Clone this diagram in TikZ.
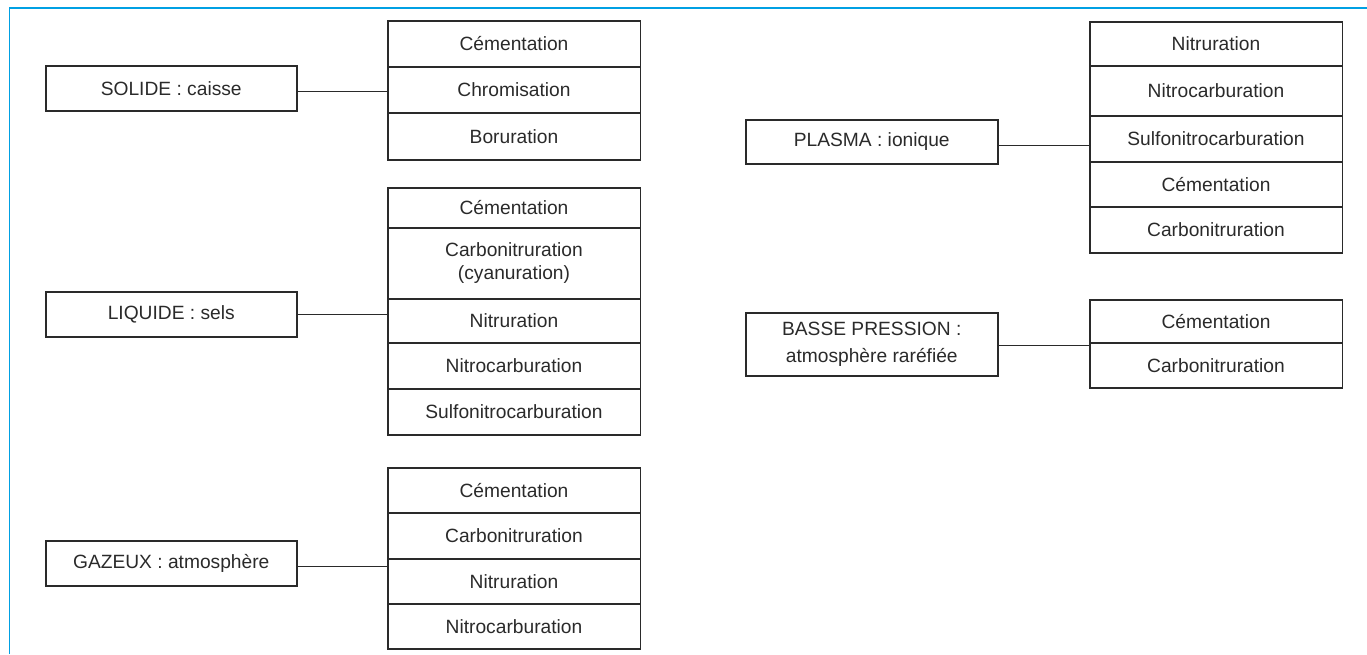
\documentclass[tikz,border=0pt]{standalone}
\usepackage{fontspec}
\setmainfont{Liberation Sans}
\definecolor{frameblue}{HTML}{00A0E3}
\definecolor{ink}{HTML}{2A2A2A}
\begin{document}
\begin{tikzpicture}[x=1pt,y=-1pt,
  every node/.style={font=\fontsize{19.2}{22.5}\selectfont, text=ink},
  cat/.style={draw=ink, line width=1.5pt, inner sep=0pt, anchor=north west, minimum width=251pt, align=center},
  row/.style={draw=ink, line width=1.5pt, inner sep=0pt, anchor=north west, minimum width=252.5pt, align=center},
  link/.style={draw=ink, line width=1.4pt}]
\useasboundingbox (0,0) rectangle (1367,654);
\draw[frameblue, line width=1.5pt] (9.5,654) -- (9.5,8) -- (1367,8);

% SOLIDE
\node[cat, minimum height=45pt] (sol) at (45,65) {SOLIDE : caisse};
\node[row, minimum height=46pt] (sol1) at (387,20) {Cémentation};
\node[row, minimum height=46pt] (sol2) at (387,66) {Chromisation};
\node[row, minimum height=47pt] (sol3) at (387,112) {Boruration};
\draw[link] ([yshift=-3pt]sol.east) -- ([yshift=-3pt]sol.east -| sol2.west);

% LIQUIDE
\node[cat, minimum height=45pt] (liq) at (45,291) {LIQUIDE : sels};
\node[row, minimum height=40pt] (liq1) at (387,187) {Cémentation};
\node[row, minimum height=71pt] (liq2) at (387,227) {Carbonitruration\\(cyanuration)};
\node[row, minimum height=44pt] (liq3) at (387,298) {Nitruration};
\node[row, minimum height=46pt] (liq4) at (387,342) {Nitrocarburation};
\node[row, minimum height=46pt] (liq5) at (387,388) {Sulfonitrocarburation};
\draw[link] (liq.east) -- (liq.east -| liq3.west);

% GAZEUX
\node[cat, minimum height=45pt] (gaz) at (45,540) {GAZEUX : atmosphère};
\node[row, minimum height=45pt] (gaz1) at (387,467) {Cémentation};
\node[row, minimum height=46pt] (gaz2) at (387,512) {Carbonitruration};
\node[row, minimum height=45pt] (gaz3) at (387,558) {Nitruration};
\node[row, minimum height=45pt] (gaz4) at (387,603) {Nitrocarburation};
\draw[link] ([yshift=-3pt]gaz.east) -- ([yshift=-3pt]gaz.east -| gaz3.west);

% PLASMA
\node[cat, minimum height=44pt, minimum width=252pt] (pla) at (745,119) {PLASMA : ionique};
\node[row, minimum height=44pt] (pla1) at (1089,21) {Nitruration};
\node[row, minimum height=50pt] (pla2) at (1089,65) {Nitrocarburation};
\node[row, minimum height=46pt] (pla3) at (1089,115) {Sulfonitrocarburation};
\node[row, minimum height=45pt] (pla4) at (1089,161) {Cémentation};
\node[row, minimum height=46pt] (pla5) at (1089,206) {Carbonitruration};
\draw[link] ([yshift=-4pt]pla.east) -- ([yshift=-4pt]pla.east -| pla3.west);

% BASSE PRESSION
\node[cat, minimum height=63pt, minimum width=252pt] (bas) at (745,312) {BASSE PRESSION :\\[4pt]atmosphère raréfiée};
\node[row, minimum height=43pt] (bas1) at (1089,299) {Cémentation};
\node[row, minimum height=45pt] (bas2) at (1089,342) {Carbonitruration};
\draw[link] ([yshift=-1pt]bas.east) -- ([yshift=-1pt]bas.east -| bas2.west);
\end{tikzpicture}
\end{document}
